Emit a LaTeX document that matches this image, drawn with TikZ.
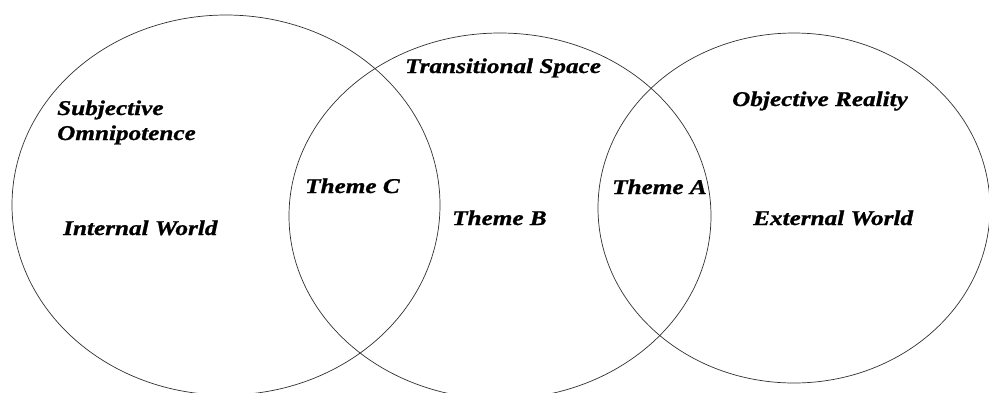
\documentclass[tikz,border=0pt]{standalone}
\usepackage{fontspec}
\setmainfont{Liberation Serif}
\newfontfamily\lblfont{Liberation Serif Bold Italic}[FakeStretch=1.2, FakeBold=1]
\usepackage{tikz}
\usetikzlibrary{positioning}
\definecolor{inkline}{HTML}{303030}

\begin{document}
\begin{tikzpicture}[x=1pt, y=-1pt,
    ring/.style={draw=inkline, line width=0.7pt},
    lbl/.style={anchor=base west, inner sep=0pt, font=\fontsize{21}{25}\selectfont\lblfont}]
  \useasboundingbox[fill=white] (0,0) rectangle (989,392);

  % the three worlds
  \draw[ring] (226,205) ellipse [x radius=214pt, y radius=190pt];
  \draw[ring] (500,216) ellipse [x radius=211pt, y radius=183pt];
  \draw[ring] (794,208) ellipse [x radius=196pt, y radius=175pt];

  \node[lbl] (subj) at (57,115) {Subjective};
  \node[lbl] (omni) at (57,140) {Omnipotence};
  \node[lbl] (inner) at (63,235) {Internal World};
  \node[lbl] (themeC) at (305,193) {Theme C};
  \node[lbl] (trans) at (405,73) {Transitional Space};
  \node[lbl] (themeB) at (452,225) {Theme B};
  \node[lbl] (themeA) at (612,194) {Theme A};
  \node[lbl] (objreal) at (732,106) {Objective Reality};
  \node[lbl] (outer) at (753,225) {External World};
\end{tikzpicture}
\end{document}
